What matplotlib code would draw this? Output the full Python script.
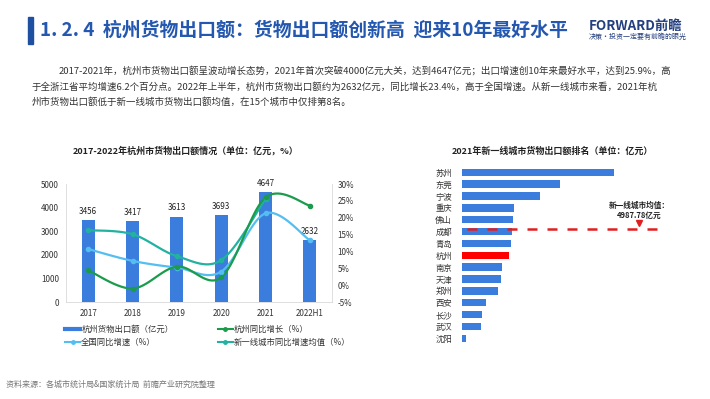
import numpy as np
import matplotlib
matplotlib.use('Agg')
import matplotlib.pyplot as plt
from matplotlib.lines import Line2D

plt.rcParams['font.family'] = ['Noto Sans CJK SC', 'DejaVu Sans']
plt.rcParams['axes.unicode_minus'] = False

# left chart data
years = ['2017', '2018', '2019', '2020', '2021', '2022H1']
export_value = [3456, 3417, 3613, 3693, 4647, 2632]
hz_growth = [4.4, -1.0, 5.5, 2.3, 26.0, 23.6]
nation_growth = [10.7, 7.2, 5.2, 4.0, 21.3, 13.3]
tier1_growth = [16.3, 15.1, 8.6, 7.4, 25.6]

# right chart data (2021)
cities = ['苏州', '东莞', '宁波', '重庆', '佛山', '成都', '青岛', '杭州',
          '南京', '天津', '郑州', '西安', '长沙', '武汉', '沈阳']
city_export = [14986, 9620, 7650, 5170, 5000, 4910, 4840, 4647,
               3990, 3860, 3530, 2355, 1960, 1900, 425]
city_mean = 4987.78

BLUE = '#3B7DDD'
GREEN = '#1A9C4C'
LIGHTBLUE = '#55BEF0'
TEAL = '#22B2A0'
RED = '#FF0000'


def smooth(xs, ys, n=24):
    # catmull-rom curve through the points, like excel's smoothed line
    p = np.column_stack([xs, ys]).astype(float)
    p = np.vstack([p[0], p, p[-1]])
    out = []
    t = np.linspace(0, 1, n)[:, None]
    for i in range(1, len(p) - 2):
        p0, p1, p2, p3 = p[i - 1], p[i], p[i + 1], p[i + 2]
        c = 0.5 * (2 * p1 + (-p0 + p2) * t + (2 * p0 - 5 * p1 + 4 * p2 - p3) * t ** 2
                   + (-p0 + 3 * p1 - 3 * p2 + p3) * t ** 3)
        out.append(c)
    c = np.vstack(out)
    return c[:, 0], c[:, 1]


fig = plt.figure(figsize=(7.1, 3.99), dpi=100)
W, H = 710, 399


def fx(px):
    return px / W


def fy(py):
    return 1 - py / H


# header
fig.patches.append(plt.Rectangle((fx(28), fy(43.5)), fx(5), 26.5 / H,
                                 transform=fig.transFigure, color='#1F4FA0'))
fig.text(fx(40), fy(30), '1. 2. 4  杭州货物出口额：货物出口额创新高  迎来10年最好水平',
         fontsize=13.6, fontweight='bold', color='#2458B0', va='center')
fig.text(fx(589), fy(25.5), 'FORWARD前瞻', fontsize=9.6, fontweight='bold',
         color='#243F7F', va='center')
fig.text(fx(589), fy(37), '决策·投资一定要有前瞻的眼光', fontsize=5,
         color='#243F7F', va='center')

para = ['2017-2021年，杭州市货物出口额呈波动增长态势，2021年首次突破4000亿元大关，达到4647亿元；出口增速创10年来最好水平，达到25.9%，高',
        '于全浙江省平均增速6.2个百分点。2022年上半年，杭州市货物出口额约为2632亿元，同比增长23.4%，高于全国增速。从新一线城市来看，2021年杭',
        '州市货物出口额低于新一线城市货物出口额均值，在15个城市中仅排第8名。']
fig.text(fx(59), fy(70.7), para[0], fontsize=6.82, color='#333333', va='center')
fig.text(fx(32), fy(86.7), para[1], fontsize=6.82, color='#333333', va='center')
fig.text(fx(32), fy(102), para[2], fontsize=6.82, color='#333333', va='center')

# left chart
ax = fig.add_axes([fx(66), fy(302), 266 / W, 118 / H])
x = np.arange(len(years))
ax.bar(x, export_value, width=0.3, color=BLUE, zorder=2)
for xi, v in zip(x, export_value):
    ax.text(xi, v + 180, str(v), ha='center', va='bottom', fontsize=5.8, color='#222222')
ax.set_xlim(-0.5, len(years) - 0.5)
ax.set_ylim(0, 5000)
ax.set_yticks(range(0, 5001, 1000))
ax.set_xticks(x)
ax.set_xticklabels(years)
ax.tick_params(labelsize=5.8, colors='#333333', length=0, pad=5)
for s in ['top', 'right']:
    ax.spines[s].set_visible(False)
for s in ['left', 'bottom']:
    ax.spines[s].set_color('#D9D9D9')
    ax.spines[s].set_linewidth(0.6)

axr = ax.twinx()
axr.set_ylim(-5, 30)
axr.set_yticks(range(-5, 31, 5))
axr.set_yticklabels([f'{v}%' for v in range(-5, 31, 5)])
axr.tick_params(labelsize=5.8, colors='#333333', length=0, pad=4)
for s in ['top', 'left', 'bottom']:
    axr.spines[s].set_visible(False)
axr.spines['right'].set_color('#D9D9D9')
axr.spines['right'].set_linewidth(0.6)

for vals, col in [(tier1_growth, TEAL), (nation_growth, LIGHTBLUE), (hz_growth, GREEN)]:
    xs = np.arange(len(vals))
    sx, sy = smooth(xs, vals)
    axr.plot(sx, sy, color=col, lw=1.6, zorder=3)
    axr.plot(xs, vals, 'o', color=col, ms=3, zorder=4)

fig.text(fx(186), fy(151), '2017-2022年杭州市货物出口额情况（单位：亿元，%）',
         fontsize=6.5, fontweight='bold', ha='center', va='center', color='#222222')

handles = [Line2D([], [], color=BLUE, lw=3),
           Line2D([], [], color=LIGHTBLUE, lw=1.5, marker='o', ms=2.5),
           Line2D([], [], color=GREEN, lw=1.5, marker='o', ms=2.5),
           Line2D([], [], color=TEAL, lw=1.5, marker='o', ms=2.5)]
labels = ['杭州货物出口额（亿元）', '全国同比增速（%）', '杭州同比增长（%）', '新一线城市同比增速均值（%）']
fig.legend(handles, labels, ncol=2, loc='upper left', bbox_to_anchor=(fx(65), fy(325)),
           frameon=False, fontsize=6, handlelength=1.8, handletextpad=0.15,
           columnspacing=5.3, labelspacing=0.5, labelcolor='#333333', borderaxespad=0,
           borderpad=0)

# right chart
ax2 = fig.add_axes([fx(461.7), fy(345.4), 238.3 / W, 180.2 / H])
colors = [RED if c == '杭州' else BLUE for c in cities]
ypos = np.arange(len(cities))
ax2.barh(ypos, city_export, height=0.62, color=colors)
ax2.set_ylim(len(cities) - 0.4, -0.6)
ax2.set_xlim(0, 23377)
ax2.set_yticks(ypos)
ax2.set_yticklabels(cities)
ax2.set_xticks([])
ax2.tick_params(axis='y', labelsize=6, colors='#333333', length=0, pad=7)
for s in ax2.spines.values():
    s.set_visible(False)
ax2.axhline(4.75, xmin=0.024, xmax=0.84, color='#E02020', lw=1.8, ls=(0, (4, 4)))
ax2.plot(17420, 4.3, marker='v', color='#E02020', ms=5)
ax2.text(17420, 2.8, '新一线城市均值：', fontsize=5.5, fontweight='bold',
         ha='center', va='center', color='#222222')
ax2.text(17420, 3.6, f'{city_mean}亿元', fontsize=5.5, fontweight='bold',
         ha='center', va='center', color='#222222')

fig.text(fx(552), fy(151), '2021年新一线城市货物出口额排名（单位：亿元）',
         fontsize=6.5, fontweight='bold', ha='center', va='center', color='#222222')

fig.text(fx(6), fy(384), '资料来源：各城市统计局&国家统计局  前瞻产业研究院整理',
         fontsize=5.8, color='#777777', va='center')

fig.savefig('out.png', dpi=100, facecolor='white')
